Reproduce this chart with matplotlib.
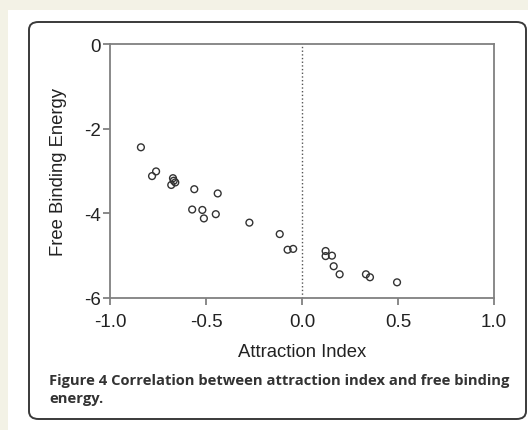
import matplotlib
matplotlib.use('Agg')
import matplotlib.pyplot as plt
from matplotlib.patches import FancyBboxPatch, Rectangle

plt.rcParams['font.family'] = ['Liberation Sans', 'DejaVu Sans']

# data
attraction = [-0.839, -0.781, -0.760, -0.681, -0.672, -0.668, -0.660,
              -0.561, -0.439, -0.572, -0.519, -0.511, -0.449, -0.274,
              -0.116, -0.075, -0.046, 0.123, 0.123, 0.156, 0.165,
              0.196, 0.333, 0.354, 0.495]
energy = [-2.44, -3.12, -3.01, -3.33, -3.17, -3.23, -3.27,
          -3.43, -3.53, -3.91, -3.92, -4.12, -4.02, -4.22,
          -4.49, -4.86, -4.84, -4.89, -5.01, -5.00, -5.25,
          -5.44, -5.44, -5.51, -5.63]
xticks = [-1.0, -0.5, 0.0, 0.5, 1.0]
yticks = [0, -2, -4, -6]
caption = 'Figure 4 Correlation between attraction index and free binding\nenergy.'

W, H = 528, 431
fig = plt.figure(figsize=(W / 100, H / 100), dpi=100, facecolor='#f3f2e6')

# white page area and rounded frame
fig.patches.append(Rectangle((8 / W, 0), 1 - 8 / W, 1 - 11 / H,
                             transform=fig.transFigure, facecolor='white',
                             edgecolor='none', zorder=-5))
fig.patches.append(FancyBboxPatch((29 / W, 1 - 420 / H), (526 - 29) / W, (420 - 23) / H,
                                  boxstyle='round,pad=0,rounding_size=0.018',
                                  transform=fig.transFigure, facecolor='none',
                                  edgecolor='#3a3a3a', linewidth=1.4, zorder=5))

ax = fig.add_axes([110 / W, 1 - 299 / H, (494 - 110) / W, (299 - 45) / H])
ax.set_facecolor('white')
ax.scatter(attraction, energy, s=24, facecolors='none', edgecolors='#333333',
           linewidths=1.0, zorder=3)
ax.axvline(0, color='#555555', linestyle=':', linewidth=1.0, zorder=2)

ax.set_xlim(-1.0, 1.0)
ax.set_ylim(-6, 0)
ax.set_xticks(xticks)
ax.set_xticklabels([f'{t:.1f}' for t in xticks])
ax.set_yticks(yticks)
ax.set_yticklabels([str(t) for t in yticks])
for s in ax.spines.values():
    s.set_color('#808080')
    s.set_linewidth(1.3)
ax.tick_params(axis='both', colors='#808080', width=1.3, length=5,
               labelsize=13.5, labelcolor='#222222')
ax.tick_params(axis='x', pad=6)
ax.tick_params(axis='y', pad=1.5)

ax.set_xlabel('Attraction Index', fontsize=13.3, color='#222222', labelpad=9)
ax.set_ylabel('Free Binding Energy', fontsize=13.3, color='#222222', labelpad=12)

fig.text(49 / W, 1 - 374 / H, caption, fontsize=10.6, fontweight='bold',
         family=['Open Sans', 'DejaVu Sans'], color='#333333', va='top',
         ha='left', linespacing=1.35)

fig.savefig('out.png', dpi=100, facecolor=fig.get_facecolor())
